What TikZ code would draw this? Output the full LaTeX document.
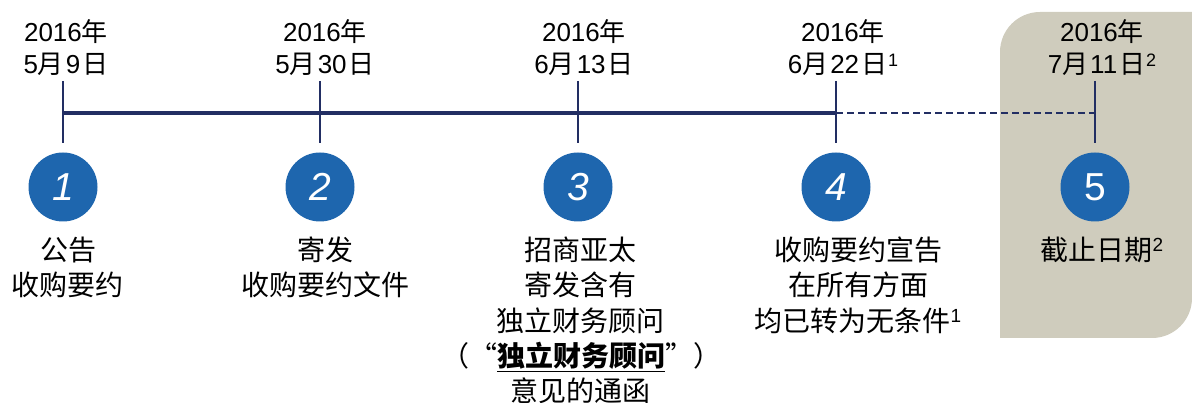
\documentclass[tikz,border=0pt]{standalone}
\usepackage{fontspec}
\setmainfont{Liberation Sans}
\newfontfamily\cjk{Noto Sans CJK SC}
\definecolor{navy}{HTML}{222E63}
\definecolor{cblue}{HTML}{1E66AE}
\definecolor{khaki}{HTML}{CFCCBD}
\newcommand{\zh}[1]{{\cjk #1}}
\newcommand{\dsup}[1]{\hspace{1pt}\raisebox{7pt}{\fontsize{18}{18}\selectfont #1}}
\newcommand{\lsup}[1]{\raisebox{9pt}{\fontsize{19}{19}\selectfont #1}}
\tikzset{
  datetxt/.style={anchor=base, inner sep=0pt, font=\fontsize{26}{26}\selectfont, text=black},
  labtxt/.style={anchor=base, inner sep=0pt, font=\fontsize{28}{28}\selectfont, text=black},
  numcirc/.style={circle, fill=cblue, minimum size=69pt, inner sep=0pt, text=white, font=\fontsize{39}{39}\selectfont},
  tickline/.style={navy, line width=2.5pt},
  mainline/.style={navy, line width=4.5pt},
  dashline/.style={navy, line width=2.5pt, dash pattern=on 7pt off 4pt},
}
\begin{document}
\begin{tikzpicture}[x=1pt,y=-1pt]
\useasboundingbox (0,0) rectangle (1192,403);
% shaded panel
\fill[khaki] (1000,338) -- (1000,52) arc[start angle=180, end angle=270, radius=40] -- (1192,12) -- (1192,298) arc[start angle=0, end angle=90, radius=40] -- cycle;
% tick coordinates
\foreach \i/\x in {1/63,2/320,3/578,4/836,5/1095}{
  \coordinate (m\i) at (\x,113);
  \coordinate (tt\i) at (\x,81);
  \coordinate (tb\i) at (\x,143);
}
\draw[mainline] (m1) -- (m4);
\draw[dashline] (m4) -- (m5);
\foreach \i in {1,...,5}{\draw[tickline] (tt\i) -- (tb\i);}
% circles
\node[numcirc] (c1) at (63,187) {\textit{1}};
\node[numcirc] (c2) at (320,187) {\textit{2}};
\node[numcirc] (c3) at (578,187) {\textit{3}};
\node[numcirc] (c4) at (836,187) {\textit{4}};
\node[numcirc] (c5) at (1095,187) {5};
% dates
\node[datetxt] (y1) at (66,42) {2016\zh{年}};
\node[datetxt] (d1) at (66,74) {5\zh{月}\hspace{2pt}9\hspace{2pt}\zh{日}};
\node[datetxt] (y2) at (325,42) {2016\zh{年}};
\node[datetxt] (d2) at (325,74) {5\zh{月}\hspace{2pt}30\hspace{2pt}\zh{日}};
\node[datetxt] (y3) at (584,42) {2016\zh{年}};
\node[datetxt] (d3) at (584,74) {6\zh{月}\hspace{2pt}13\hspace{2pt}\zh{日}};
\node[datetxt] (y4) at (843,42) {2016\zh{年}};
\node[datetxt] (d4) at (843,74) {6\zh{月}\hspace{2pt}22\hspace{2pt}\zh{日}\dsup{1}};
\node[datetxt] (y5) at (1102,42) {2016\zh{年}};
\node[datetxt] (d5) at (1102,74) {7\zh{月}\hspace{2pt}11\hspace{2pt}\zh{日}\dsup{2}};
% labels
\node[labtxt] (l1a) at (68,260.5) {\zh{公告}};
\node[labtxt] (l1b) at (68,296) {\zh{收购要约}};
\node[labtxt] (l2a) at (325,260.5) {\zh{寄发}};
\node[labtxt] (l2b) at (325,296) {\zh{收购要约文件}};
\node[labtxt] (l3a) at (580,260.5) {\zh{招商亚太}};
\node[labtxt] (l3b) at (580,296) {\zh{寄发含有}};
\node[labtxt] (l3c) at (580,331.5) {\zh{独立财务顾问}};
\node[labtxt] (l3d) at (581,366.5) {\zh{（“\underline{\bfseries 独立财务顾问}”）}};
\node[labtxt] (l3e) at (580,401.5) {\zh{意见的通函}};
\node[labtxt] (l4a) at (858,260.5) {\zh{收购要约宣告}};
\node[labtxt] (l4b) at (858,296) {\zh{在所有方面}};
\node[labtxt] (l4c) at (858,331.5) {\zh{均已转为无条件}\lsup{1}};
\node[labtxt] (l5a) at (1102,260.5) {\zh{截止日期}\lsup{2}};
\end{tikzpicture}
\end{document}
